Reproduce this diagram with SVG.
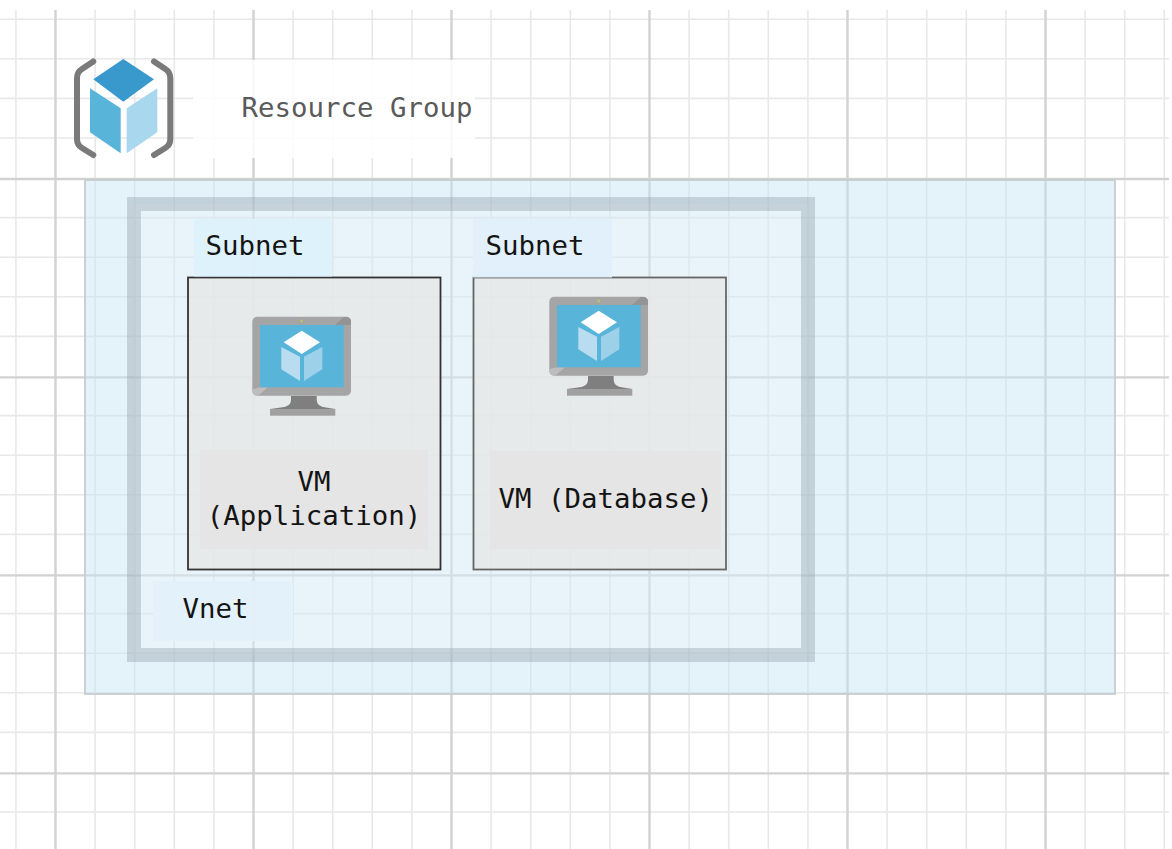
<svg xmlns="http://www.w3.org/2000/svg" xmlns:xlink="http://www.w3.org/1999/xlink" width="1172" height="849" viewBox="0 0 1172 849">
<style>
.minor{stroke:#e8e8e8;stroke-width:1.6;fill:none}
.major{stroke:#d2d2d2;stroke-width:2.4;fill:none}
.t{font-family:"DejaVu Sans Mono","Liberation Mono",monospace;font-size:27.4px;fill:#141414}
.sub{fill:#e6e7e7;fill-opacity:.85;stroke-width:1.8}
.lab{fill-opacity:.96}
.vml{fill:#e5e5e5;fill-opacity:.95}
</style>
<defs>
<g id="vm-icon">
<rect x="252.3" y="316.7" width="98.7" height="79" rx="5" fill="#a5a5a6"/>
<path d="M335 325 L343.7 317 H346 Q351 317 351 322 V325Z" fill="#949495"/>
<path d="M252.5 391 V389 L260 387.3 H268 L258 395.7 H257 Q253 395 252.5 391Z" fill="#bdbdbd"/>
<circle cx="301.7" cy="321" r="1.4" fill="#bcc46a"/>
<rect x="260" y="325" width="83.7" height="62.3" fill="#59b4d9"/>
<path d="M301.7 330.7 L320 342.3 L301.7 354 L283.7 342.3Z" fill="#fff"/>
<path d="M281.3 347 L300 356.7 V381 L281.3 369.3Z" fill="#b9dcf0"/>
<path d="M304 356.7 L322.3 347 V369.3 L304 381Z" fill="#9dd1e9"/>
<path d="M291 396 H316.7 V400 Q317 407 326 407.5 L335.3 409 H270 L281 407.5 Q291 407 291 400Z" fill="#7f7f7f"/>
<rect x="270" y="409" width="65.3" height="6.7" fill="#a0a0a0"/>
</g>
</defs>
<rect width="1172" height="849" fill="#fff"/>
<g id="grid">
<path class="minor" d="M0 19.2H1169M0 58.8H1169M0 98.4H1169M0 138H1169M0 217.6H1169M0 257.2H1169M0 296.8H1169M0 336.4H1169M0 415.6H1169M0 455.2H1169M0 494.8H1169M0 534.4H1169M0 613.6H1169M0 653.2H1169M0 692.8H1169M0 732.4H1169M0 812H1169"/>
<path class="minor" d="M15.9 10V849M95.1 10V849M134.7 10V849M174.3 10V849M213.9 10V849M293.1 10V849M332.7 10V849M372.3 10V849M411.9 10V849M491.1 10V849M530.7 10V849M570.3 10V849M609.9 10V849M689.1 10V849M728.7 10V849M768.3 10V849M807.9 10V849M887.1 10V849M926.7 10V849M966.3 10V849M1005.9 10V849M1085.1 10V849M1124.7 10V849M1164.3 10V849"/>
<path class="major" d="M0 179H1169M0 377.4H1169M0 575.4H1169M0 773.4H1169M55.5 10V849M253.5 10V849M451.5 10V849M649.5 10V849M847.5 10V849M1045.5 10V849"/>
</g>
<g id="resource-group-label">
<rect x="193" y="60" width="282" height="98" fill="#fff" fill-opacity=".87"/>
<text class="t" x="241.5" y="116.5" style="fill:#5a5a5a">Resource Group</text>
</g>
<g id="resource-group-icon">
<path d="M123.3 59 L154 79.3 L123.3 101.7 L93.3 79.3Z" fill="#3a99cc"/>
<path d="M90 88.3 L120.7 108.3 V153.3 L90 132.3Z" fill="#59b4d9"/>
<path d="M126.7 108.3 L157.3 88.3 V132.3 L126.7 153.3Z" fill="#a9d8ee"/>
<path d="M93.3 61.5 L82 69 Q77 72 77 78 V139 Q77 145 82 148 L93.3 155" fill="none" stroke="#7a7a7a" stroke-width="6" stroke-linecap="round"/>
<path d="M154 61.5 L165.3 69 Q170.3 72 170.3 78 V139 Q170.3 145 165.3 148 L154 155" fill="none" stroke="#7a7a7a" stroke-width="6" stroke-linecap="round"/>
</g>
<g id="resource-group">
<rect x="85" y="180" width="1030" height="514" fill="#c5e3f2" fill-opacity=".47" stroke="#c8cccf" stroke-width="1.8"/>
</g>
<g id="vnet">
<rect x="134" y="204" width="674" height="451" fill="#fff" fill-opacity=".15" stroke="#8e9ea7" stroke-opacity=".38" stroke-width="14"/>
<rect x="153" y="581" width="140" height="60" class="lab" fill="#e3f0fa"/>
<text class="t" x="182.5" y="618.3">Vnet</text>
</g>
<g id="subnet-1">
<rect class="sub" x="188" y="277.5" width="252.5" height="292" stroke="#333"/>
<rect x="194" y="219" width="138" height="57.5" class="lab" fill="#def1fb"/>
<text class="t" x="205.5" y="255">Subnet</text>
</g>
<g id="subnet-2">
<rect class="sub" x="473.5" y="277.5" width="252.5" height="292" stroke="#666"/>
<rect x="473" y="219" width="139" height="58.5" class="lab" fill="#e1effa"/>
<text class="t" x="485.5" y="255">Subnet</text>
</g>
<g id="vm-application">
<use xlink:href="#vm-icon" href="#vm-icon"/>
<rect class="vml" x="200" y="450" width="228" height="99"/>
<text class="t" x="314" y="491" text-anchor="middle">VM</text>
<text class="t" x="314" y="525" text-anchor="middle">(Application)</text>
</g>
<g id="vm-database">
<use xlink:href="#vm-icon" href="#vm-icon" x="297" y="-20"/>
<rect class="vml" x="490" y="451" width="231" height="98"/>
<text class="t" x="498.5" y="507.7">VM (Database)</text>
</g>
</svg>
